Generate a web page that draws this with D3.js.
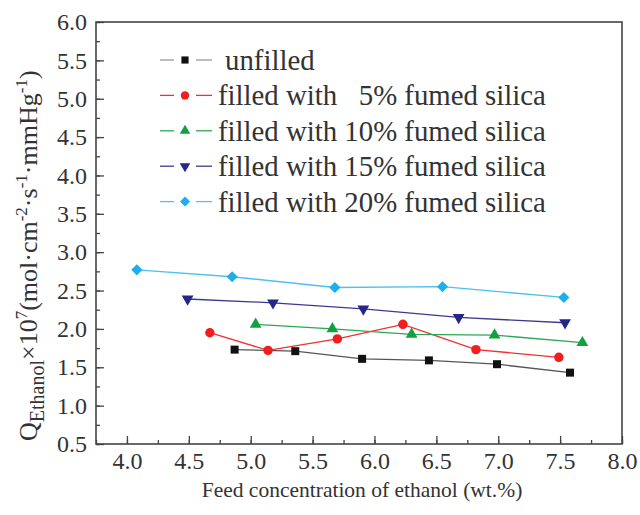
<!DOCTYPE html>
<html>
<head>
<meta charset="utf-8">
<script src="https://cdn.jsdelivr.net/npm/d3@7"></script>
<style>
  body { margin: 0; background: #fff; }
  text { font-family: "Liberation Serif", "DejaVu Serif", serif; fill: #333; }
</style>
</head>
<body>
<div id="chart"></div>
<script>
// data
var unfilledX = [4.87, 5.36, 5.90, 6.44, 6.99, 7.58];
var unfilledY = [1.73, 1.71, 1.61, 1.59, 1.54, 1.43];
var silica5X = [4.67, 5.14, 5.70, 6.23, 6.82, 7.49];
var silica5Y = [1.95, 1.72, 1.87, 2.06, 1.73, 1.63];
var silica10X = [5.04, 5.66, 6.30, 6.97, 7.68];
var silica10Y = [2.06, 2.00, 1.93, 1.92, 1.82];
var silica15X = [4.49, 5.18, 5.91, 6.68, 7.54];
var silica15Y = [2.39, 2.34, 2.26, 2.15, 2.08];
var silica20X = [4.08, 4.85, 5.68, 6.55, 7.53];
var silica20Y = [2.77, 2.68, 2.54, 2.55, 2.41];

var seriesNames = ["unfilled", "filled with   5% fumed silica", "filled with 10% fumed silica",
                   "filled with 15% fumed silica", "filled with 20% fumed silica"];
var xTicks = [4.0, 4.5, 5.0, 5.5, 6.0, 6.5, 7.0, 7.5, 8.0];
var yTicks = [0.5, 1.0, 1.5, 2.0, 2.5, 3.0, 3.5, 4.0, 4.5, 5.0, 5.5, 6.0];

// set the dimensions and margins of the graph
var margin = {top: 22, right: 18, bottom: 71, left: 96},
    width = 640 - margin.left - margin.right,
    height = 515 - margin.top - margin.bottom;

var svg = d3.select("#chart")
  .append("svg")
    .attr("width", 640)
    .attr("height", 515)
  .append("g")
    .attr("transform", "translate(" + margin.left + "," + margin.top + ")");

var x = d3.scaleLinear().domain([3.75, 8.0]).range([0, width]);
var y = d3.scaleLinear().domain([0.5, 6.0]).range([height, 0]);

var axisColor = "#444";

// minor ticks first, then major ticks with labels (ticks point inward)
var xMinor = d3.range(3.75, 8.01, 0.25);
var yMinor = d3.range(0.5, 6.01, 0.25);

svg.append("g")
  .attr("transform", "translate(0," + height + ")")
  .call(d3.axisBottom(x).tickValues(xMinor).tickSize(-4).tickFormat(""));
svg.append("g")
  .call(d3.axisLeft(y).tickValues(yMinor).tickSize(-4).tickFormat(""));

var xAxis = svg.append("g")
  .attr("transform", "translate(0," + height + ")")
  .call(d3.axisBottom(x).tickValues(xTicks).tickSize(-8).tickPadding(8).tickFormat(d3.format(".1f")));
var yAxis = svg.append("g")
  .call(d3.axisLeft(y).tickValues(yTicks).tickSize(-8).tickPadding(9).tickFormat(d3.format(".1f")));

svg.selectAll(".domain").remove();
svg.selectAll(".tick line").attr("stroke", axisColor).attr("stroke-width", 1.3);
svg.selectAll(".tick text")
  .attr("font-family", "Liberation Serif")
  .attr("font-size", 24)
  .attr("fill", "#444");

// frame
svg.append("rect")
  .attr("width", width)
  .attr("height", height)
  .attr("fill", "none")
  .attr("stroke", axisColor)
  .attr("stroke-width", 1.6);

// series
var series = [
  {name: seriesNames[0], xs: unfilledX, ys: unfilledY, line: "#555", mark: "#111", shape: d3.symbolSquare, size: 64, rot: 0},
  {name: seriesNames[1], xs: silica5X, ys: silica5Y, line: "#f03030", mark: "#f01e1e", shape: d3.symbolCircle, size: 70, rot: 0},
  {name: seriesNames[2], xs: silica10X, ys: silica10Y, line: "#2aa856", mark: "#12a040", shape: d3.symbolTriangle, size: 60, rot: 0},
  {name: seriesNames[3], xs: silica15X, ys: silica15Y, line: "#3a3a96", mark: "#25258a", shape: d3.symbolTriangle, size: 60, rot: 180},
  {name: seriesNames[4], xs: silica20X, ys: silica20Y, line: "#4cc0f0", mark: "#1ab0f0", shape: d3.symbolSquare, size: 62, rot: 45}
];

var line = d3.line()
  .x(function (d) { return x(d[0]); })
  .y(function (d) { return y(d[1]); });

series.forEach(function (s) {
  var pts = s.xs.map(function (v, i) { return [v, s.ys[i]]; });
  svg.append("path")
    .datum(pts)
    .attr("fill", "none")
    .attr("stroke", s.line)
    .attr("stroke-width", 1.3)
    .attr("d", line);
  svg.append("g")
    .selectAll("path")
    .data(pts)
    .enter()
    .append("path")
      .attr("d", d3.symbol().type(s.shape).size(s.size))
      .attr("transform", function (d) { return "translate(" + x(d[0]) + "," + y(d[1]) + ") rotate(" + s.rot + ")"; })
      .attr("fill", s.mark);
});

// legend
var legend = svg.append("g")
  .attr("transform", "translate(" + (160 - margin.left) + "," + (60 - margin.top) + ")");

series.forEach(function (s, i) {
  var row = legend.append("g").attr("transform", "translate(0," + (i * 35.4) + ")");
  var lineCol = i === 0 ? "#999" : s.line;
  row.append("line").attr("x1", 0).attr("x2", 14).attr("stroke", lineCol).attr("stroke-width", 1.3);
  row.append("line").attr("x1", 36).attr("x2", 52).attr("stroke", lineCol).attr("stroke-width", 1.3);
  row.append("path")
    .attr("d", d3.symbol().type(s.shape).size(s.size * 0.8))
    .attr("transform", "translate(25,0) rotate(" + s.rot + ")")
    .attr("fill", s.mark);
  row.append("text")
    .attr("x", i === 0 ? 65 : 58)
    .attr("dy", "0.35em")
    .attr("font-family", "Liberation Serif")
    .attr("font-size", 28.8)
    .style("white-space", "pre")
    .text(s.name);
});

// axis titles
svg.append("text")
  .attr("x", width / 2 + 3)
  .attr("y", height + 53)
  .attr("text-anchor", "middle")
  .attr("font-size", 21.5)
  .text("Feed concentration of ethanol (wt.%)");

var yTitle = svg.append("text")
  .attr("transform", "translate(" + (37 - margin.left) + "," + (441 - margin.top) + ") rotate(-90)")
  .attr("font-size", 26);
yTitle.append("tspan").text("Q");
yTitle.append("tspan").attr("dy", 7).attr("font-size", 20).text("Ethanol");
yTitle.append("tspan").attr("dy", -7).text("×10");
yTitle.append("tspan").attr("dy", -10).attr("font-size", 17).text("7");
yTitle.append("tspan").attr("dy", 10).text("(mol·cm");
yTitle.append("tspan").attr("dy", -10).attr("font-size", 17).text("-2");
yTitle.append("tspan").attr("dy", 10).text("·s");
yTitle.append("tspan").attr("dy", -10).attr("font-size", 17).text("-1");
yTitle.append("tspan").attr("dy", 10).text("·mmHg");
yTitle.append("tspan").attr("dy", -10).attr("font-size", 17).text("-1");
yTitle.append("tspan").attr("dy", 10).text(")");
</script>
</body>
</html>
